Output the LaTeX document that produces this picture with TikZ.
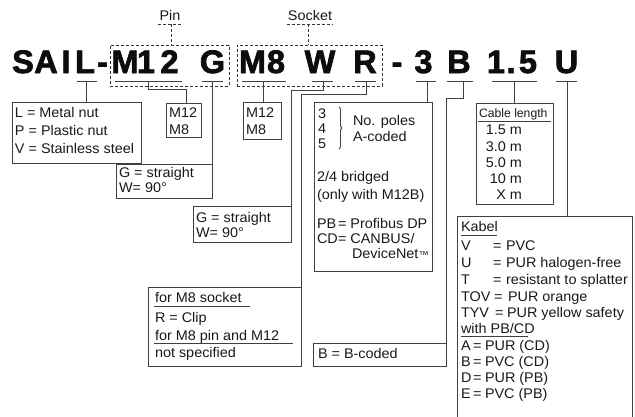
\documentclass[tikz,border=0pt]{standalone}
\usepackage{fontspec}
\setmainfont{Liberation Sans}[FakeStretch=1.03]
\newfontfamily\plainfont{Liberation Sans}
\newfontfamily\titlefont{Liberation Sans}[BoldFeatures={FakeBold=2.2}]
\usetikzlibrary{fit,decorations.pathreplacing}
\begin{document}
\begin{tikzpicture}[x=1pt,y=-1pt,
  txt/.style={anchor=base west,inner sep=0,outer sep=0,font=\fontsize{14}{16}\selectfont,text=black!90},
  txte/.style={txt,anchor=base east},
  big/.style={anchor=base,inner sep=0,outer sep=0,font=\titlefont\fontsize{32.5}{36}\bfseries\selectfont,text=black!95},
  box/.style={draw=black!75,line width=1pt,inner sep=0,outer sep=0},
  ln/.style={draw=black!75,line width=1pt},
  dsh/.style={draw=black!80,line width=0.8pt,dash pattern=on 3pt off 2pt,inner sep=0,outer sep=0}]
\useasboundingbox (0,0) rectangle (635,416);
% title
\foreach \c/\x [count=\i] in {S/23,A/46,I/66,L/85,-/102.5,M/125,1/146,2/169.5,G/212.5,M/252.5,8/276,W/320,R/365,-/397,3/423.5,B/459,1/496,./511,5/528,U/566.5}
  \node[big] (t\i) at (\x,73) {\c};
% dashed groups
\node[dsh,fit={(110,45) (229,86)}] (pinbox) {};
\node[dsh,fit={(237,45) (382,86)}] (sockbox) {};
\node[txt,anchor=base] (pin) at (170,20) {Pin};
\node[txt,anchor=base] (socket) at (310,20) {Socket};
\coordinate (pinu) at (171,24);
\coordinate (socku) at (308,24);
\draw[dsh] (158,24) -- (183,24);
\draw[dsh] (287,24) -- (333,24);
\draw[dsh] (pinu) -- (pinbox.north -| pinu);
\draw[dsh] (socku) -- (sockbox.north -| socku);
% underline coordinates
\coordinate (uL) at (86,81);
\coordinate (uM12) at (148,81);
\coordinate (uG) at (212,81);
\coordinate (uM8) at (263,81);
\coordinate (uW) at (323,81);
\coordinate (uR) at (366,81);
\coordinate (u3) at (427,81);
\coordinate (uB) at (463,81);
\coordinate (u15) at (514,81);
\coordinate (uU) at (567,81);
\draw[ln] (77,81) -- (97,81);
\draw[ln] (115,81) -- (182,81);
\draw[ln] (202,81) -- (223,81);
\draw[ln] (242,81) -- (286,81);
\draw[ln] (312,81) -- (333,81);
\draw[ln] (355,81) -- (376,81);
\draw[ln] (416,81) -- (436,81);
\draw[ln] (447,81) -- (473,81);
\draw[ln] (492,81) -- (537,81);
\draw[ln] (556,81) -- (577,81);
% boxes
\node[box,fit={(12,102) (141,163)}] (lbox) {};
\node[box,fit={(166,103) (201,137)}] (m1box) {};
\node[box,fit={(116,164) (212,198)}] (g1box) {};
\node[box,fit={(243,102) (281,139)}] (m2box) {};
\node[box,fit={(193,206) (291,242)}] (g2box) {};
\node[box,fit={(314,102) (432,271)}] (pbox) {};
\node[box,fit={(148,287) (301,366)}] (sbox) {};
\node[box,fit={(313,343) (446,366)}] (bbox) {};
\node[box,fit={(476,103) (553,204)}] (cbox) {};
\node[box,fit={(457,216) (632,430)}] (kbox) {};
% connectors
\draw[ln] (uL) -- (lbox.north -| uL);
\draw[ln] (uM12) -- ++(0,8) -| ([xshift=2.5pt]m1box.north);
\draw[ln] (uG) |- (g1box.north east);
\draw[ln] (uM8) -- (m2box.north -| uM8);
\draw[ln] (uW) -- ++(0,9) -| (g2box.north east);
\draw[ln] (uR) -- ++(0,13) -| (sbox.north east);
\draw[ln] (u3) -- (pbox.north -| u3);
\draw[ln] (uB) -- ++(0,17) -| (bbox.north east);
\draw[ln] (u15) -- (cbox.north -| u15);
\draw[ln] (uU) -- (kbox.north -| uU);
% L box
\node[txt] (l1) at (15,117) {L = Metal nut};
\node[txt] (l2) at (15,135) {P = Plastic nut};
\node[txt] (l3) at (15,153) {V = Stainless steel};
% M12/M8 boxes
\node[txt] (ma1) at (169,117) {M12};
\node[txt] (ma2) at (169,134) {M8};
\node[txt] (mb1) at (246,117) {M12};
\node[txt] (mb2) at (246,134) {M8};
% G/W boxes
\node[txt] (ga1) at (119,177) {G = straight};
\node[txt] (ga2) at (119,192) {W= 90°};
\node[txt] (gb1) at (196,222) {G = straight};
\node[txt] (gb2) at (196,237) {W= 90°};
% poles box
\node[txt] (p3) at (318,118) {3};
\node[txt] (p4) at (318,133) {4};
\node[txt] (p5) at (318,148) {5};
\draw[ln,line width=0.9pt,decorate,decoration={brace,amplitude=3pt}] (339,107) -- (339,149);
\node[txt] (np) at (353,125) {No. poles};
\node[txt] (ac) at (353,141) {A-coded};
\node[txt] (br1) at (317,181) {2/4 bridged};
\node[txt] (br2) at (317,199) {(only with M12B)};
\node[txt] (pb1) at (317,228) {PB};
\node[txt] (pb2) at (338,228) {= Profibus DP};
\node[txt] (cd1) at (317,243) {CD};
\node[txt] (cd2) at (338,243) {= CANBUS/};
\node[txt] (cd3) at (352,258) {DeviceNet{\fontsize{10}{10}\selectfont ™}};
% socket box
\node[txt] (s1) at (155,302) {for M8 socket};
\draw[ln] (154,306) -- (250,306);
\node[txt] (s2) at (155,322) {R = Clip};
\node[txt] (s3) at (155,340) {for M8 pin and M12};
\draw[ln] (154,343) -- (293,343);
\node[txt] (s4) at (155,357) {not specified};
% B-coded
\node[txt] (bc) at (318,358) {B = B-coded};
% cable length
\node[txt,font=\plainfont\fontsize{12.2}{14}\selectfont] (cl) at (479,117) {Cable length};
\draw[ln] (478,121) -- (551,121);
\node[txte] (c1) at (522,134) {1.5 m};
\node[txte] (c2) at (522,151) {3.0 m};
\node[txte] (c3) at (522,167) {5.0 m};
\node[txte] (c4) at (522,183) {10 m};
\node[txte] (c5) at (522,199) {X m};
% Kabel
\node[txt] (kh) at (461,231) {Kabel};
\draw[ln] (461,235) -- (497,235);
\foreach \k/\e/\v/\y/\xe/\xv [count=\i] in {V/=/PVC/250/493/506,U/=/PUR halogen-free/267/493/506,T/=/resistant to splatter/284/493/506,TOV/=/PUR orange/301/494/508,TYV/=/PUR yellow safety/317/495/507}{
  \node[txt] (kc\i) at (461,\y) {\k};
  \node[txt] (ke\i) at (\xe,\y) {\e};
  \node[txt] (kv\i) at (\xv,\y) {\v};
}
\node[txt] (kw) at (461,333) {with PB/CD};
\draw[ln] (461,336) -- (528,336);
\foreach \k/\v/\y [count=\i] in {A/PUR (CD)/350,B/PVC (CD)/366,D/PUR (PB)/382,E/PVC (PB)/398}{
  \node[txt] (kd\i) at (461,\y) {\k};
  \node[txt] (kf\i) at (473,\y) {=};
  \node[txt] (kg\i) at (485,\y) {\v};
}
\end{tikzpicture}
\end{document}
